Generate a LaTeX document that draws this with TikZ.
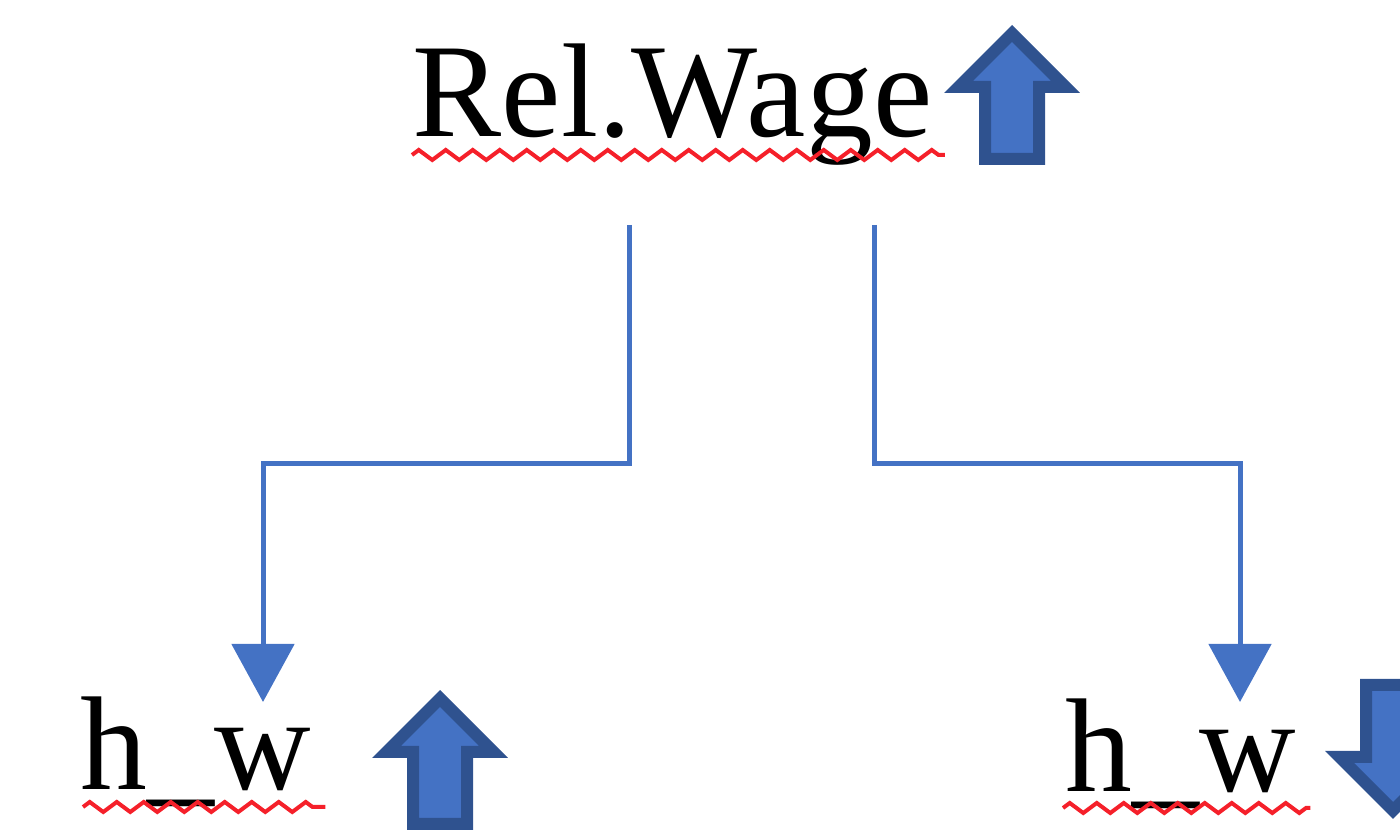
\documentclass[tikz,border=0pt]{standalone}
\usepackage{fontspec}
\setmainfont{Liberation Serif}
\usetikzlibrary{arrows.meta,calc,decorations.pathmorphing}
\definecolor{officeblue}{HTML}{4472C4}
\definecolor{officedark}{HTML}{2F528F}
\definecolor{spellred}{HTML}{F5202A}

\begin{document}
\begin{tikzpicture}[line cap=butt,line join=miter,
		lbl/.style={inner sep=0pt,font=\fontsize{38}{40}\selectfont},
		conn/.style={officeblue,line width=0.05cm,-{Triangle[width=0.62cm,length=0.58cm]}},
		squig/.style={spellred,line width=0.04cm,decorate,
			decoration={zigzag,segment length=0.27cm,amplitude=0.05cm}},
		blk/.style={fill=officeblue,draw=officedark,line width=0.12cm},
		bigup/.pic={\draw[blk] (-0.27,0.06) -- (-0.27,0.78) -- (-0.535,0.78) -- (0,1.315)
			-- (0.535,0.78) -- (0.27,0.78) -- (0.27,0.06) -- cycle;}]
	\useasboundingbox (0,0) rectangle (14,8.35);
	\clip (0,0) rectangle (14,8.35);
	% top
	\node[lbl,anchor=base west] (rel) at (4.12,6.98) {Rel.Wage};
	\draw[squig] ($(rel.base west)+(0,-0.18)$) -- ($(rel.base east)+(0.12,-0.18)$);
	\pic at (10.12,6.70) {bigup};
	% bottom
	\node[lbl,anchor=base west] (hwL) at (0.80,0.45) {h\_w};
	\node[lbl,anchor=base west] (hwR) at (10.65,0.43) {h\_w};
	\draw[squig] ($(hwL.base west)+(0.03,-0.17)$) -- ($(hwL.base east)+(0.14,-0.17)$);
	\draw[squig] ($(hwR.base west)+(-0.02,-0.16)$) -- ($(hwR.base east)+(0.14,-0.16)$);
	\pic at (4.40,0.05) {bigup};
	\pic[rotate=180] at (13.93,1.56) {bigup};
	% connectors
	\coordinate (srcL) at (6.29,6.10);
	\coordinate (srcR) at (8.74,6.10);
	\coordinate (dstL) at (2.63,1.33);
	\coordinate (dstR) at (12.40,1.33);
	\draw[conn] (srcL) |- ($(srcL)!.5!(dstL)$) -| (dstL);
	\draw[conn] (srcR) |- ($(srcR)!.5!(dstR)$) -| (dstR);
\end{tikzpicture}
\end{document}
